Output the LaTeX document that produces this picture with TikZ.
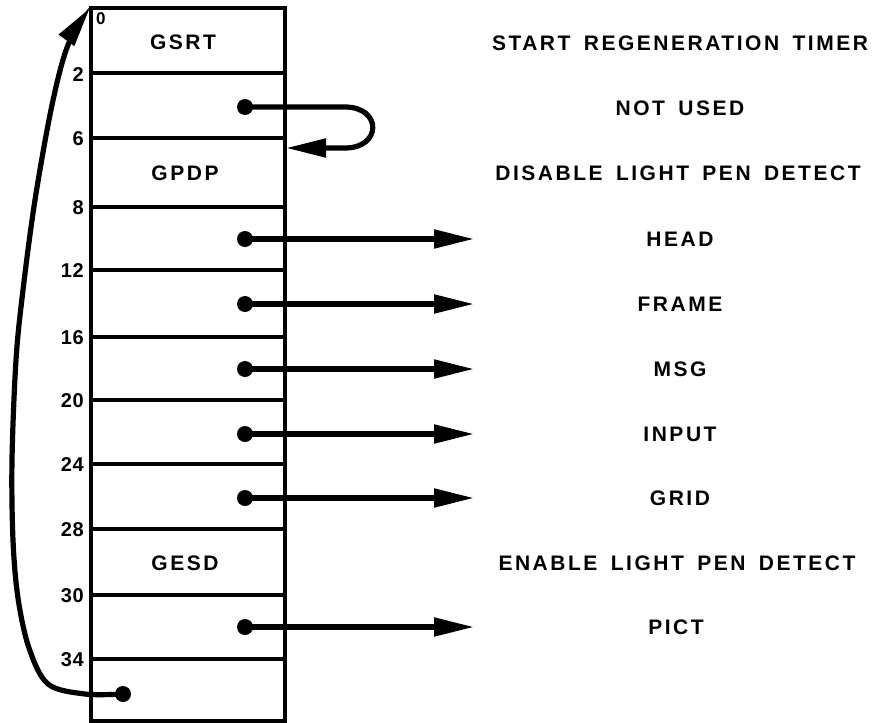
\documentclass[tikz,border=0pt]{standalone}
\usepackage{fontspec}
\setmainfont{Liberation Sans}
\newfontfamily\labfont{Liberation Sans}[LetterSpace=12, WordSpace=1.6]
\newfontfamily\numfont{Liberation Sans}[LetterSpace=3]
\usetikzlibrary{arrows.meta}
\tikzset{
  txt/.style={font=\labfont\bfseries\fontsize{21}{24}\selectfont, inner sep=0pt},
  num/.style={font=\numfont\bfseries\fontsize{20}{24}\selectfont, inner sep=0pt, anchor=east},
  boxline/.style={line width=3.2pt},
  conn/.style={line width=5.2pt, -{Triangle[length=40pt,width=18pt]}},
  dotmark/.style={fill=black, circle, minimum size=16pt, inner sep=0pt},
}
\begin{document}
\begin{tikzpicture}[x=1pt,y=-1pt]
\useasboundingbox (0,0) rectangle (876,723);
\fill[white] (0,0) rectangle (876,723);
% memory box
\draw[boxline] (91,8) rectangle (285,721);
\foreach \yy in {73,138,207,270,337,400,464,529,595,659}
  \draw[boxline] (91,\yy) -- (285,\yy);
% address numbers
\node[num, anchor=north west, font=\numfont\bfseries\fontsize{17}{20}\selectfont] (n0) at (96,12) {0};
\node[num] (n2) at (84,75) {2};
\node[num] (n6) at (84,139) {6};
\node[num] (n8) at (84,208) {8};
\node[num] (n12) at (84,271) {12};
\node[num] (n16) at (84,338) {16};
\node[num] (n20) at (84,401) {20};
\node[num] (n24) at (84,465) {24};
\node[num] (n28) at (84,530) {28};
\node[num] (n30) at (84,596) {30};
\node[num] (n34) at (84,660) {34};
% cell contents
\node[txt] (gsrt) at (183,42) {GSRT};
\node[txt] (gpdp) at (185,173) {GPDP};
\node[txt] (gesd) at (185,563) {GESD};
% right labels
\node[txt] (l1) at (680,43) {START REGENERATION TIMER};
\node[txt] (l2) at (680,108) {NOT USED};
\node[txt] (l3) at (678,173) {DISABLE LIGHT PEN DETECT};
\node[txt] (lhead) at (680,239) {HEAD};
\node[txt] (lframe) at (680,304) {FRAME};
\node[txt] (lmsg) at (680,369) {MSG};
\node[txt] (linput) at (680,434) {INPUT};
\node[txt] (lgrid) at (680,498) {GRID};
\node[txt] (l8) at (677,563) {ENABLE LIGHT PEN DETECT};
\node[txt] (lpict) at (676,627) {PICT};
% dots
\node[dotmark] (d4) at (245,107) {};
\node[dotmark] (d10) at (245,239) {};
\node[dotmark] (d14) at (245,304) {};
\node[dotmark] (d18) at (245,369) {};
\node[dotmark] (d22) at (245,434) {};
\node[dotmark] (d26) at (245,498) {};
\node[dotmark] (d32) at (245,627) {};
\node[dotmark] (d36) at (123,694) {};
% arrow ends
\coordinate (t10) at (474,239);
\coordinate (t14) at (474,304);
\coordinate (t18) at (474,369);
\coordinate (t22) at (474,434);
\coordinate (t26) at (474,498);
\coordinate (t32) at (474,627);
\coordinate (t6) at (286,148);
\coordinate (t0) at (90,8);
% connectors
\foreach \s/\t in {d10/t10,d14/t14,d18/t18,d22/t22,d26/t26,d32/t32}
  \draw[conn] (\s.center) -- (\t);
\draw[conn] (d4.center) -- (345,107) .. controls (382,107) and (382,148) .. (345,148) -- (t6);
\draw[conn] plot[smooth, tension=0.55] coordinates {(d36.center) (85,694) (48,684) (29,648) (18,598) (13,540) (12,460) (16,360) (23,290) (35,200) (52,105) (68,45) (t0)};
\end{tikzpicture}
\end{document}
